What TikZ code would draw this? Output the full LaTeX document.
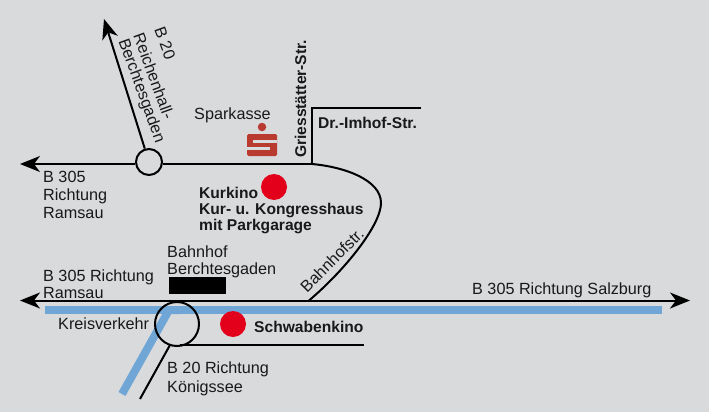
\documentclass[tikz,border=0pt]{standalone}
\usepackage{fontspec}
\setmainfont{Liberation Sans}
\usetikzlibrary{arrows.meta}
\definecolor{bgc}{HTML}{D9DADC}
\definecolor{bluer}{HTML}{6FA6D6}
\definecolor{redk}{HTML}{E2001A}
\definecolor{sred}{HTML}{B93A2E}
\tikzset{
  x=1pt,y=-1pt,
  road/.style={line width=2pt,draw=black},
  wide/.style={line width=8pt,draw=bluer},
  ring/.style={circle,draw=black,line width=2pt,inner sep=0pt},
  kino/.style={circle,fill=redk,inner sep=0pt,minimum size=26pt},
  lab/.style={font=\fontsize{16.2}{19}\selectfont,inner sep=0pt,text=black!90,anchor=base west},
  blab/.style={font=\fontsize{15.6}{18}\selectfont\bfseries,inner sep=0pt,text=black!90,anchor=base west},
  tip/.style={-{Stealth[length=20pt,width=16pt,inset=6pt]}},
}
\begin{document}
\begin{tikzpicture}
\fill[bgc] (0,0) rectangle (709,412);
\useasboundingbox (0,0) rectangle (709,412);
% coordinates
\coordinate (mainw) at (20,300.5);
\coordinate (maine) at (690,300.5);
\coordinate (blw) at (45,310);
\coordinate (blc) at (169,310);
\coordinate (ble) at (662,310);
\coordinate (bls) at (122,394);
\coordinate (topw) at (20,164);
\coordinate (topj) at (312,164);
\coordinate (north) at (104,19);
\coordinate (imhofc) at (312,108);
\coordinate (imhofe) at (421,108);
\coordinate (bahn) at (309,300.5);
\coordinate (south) at (140,399);
\coordinate (kreiss) at (170,345);
\coordinate (schws) at (180,345);
\coordinate (schwe) at (364,345);
% blue road
\draw[wide] (blw) -- (ble);
\draw[wide] (bls) -- (blc) -- ++(12,0);
% roads
\draw[road,tip] (bahn) -- (mainw);
\draw[road,tip] (bahn) -- (maine);
\node[ring,minimum size=44pt] (kreis) at (177,324) {};
\node[ring,minimum size=26pt,fill=bgc] (rb) at (149,162) {};
\draw[road,tip] (rb.west |- topw) -- (topw);
\draw[road,tip] (rb) -- (north);
\draw[road] (rb.east |- topj) -- (topj);
\draw[road] (topj) .. controls (345,167) and (381,180) .. (381,203) .. controls (381,225) and (345,270) .. (bahn);
\draw[road,line join=miter] (topj) -- (imhofc) -- (imhofe);
\draw[road] (kreiss) -- (south);
\draw[road] (schws) -- (schwe);
% black rect
\node[fill=black,minimum width=57pt,minimum height=17pt,inner sep=0pt] (bhf) at (197.5,285.5) {};
% kinos
\node[kino] (kur) at (274,187) {};
\node[kino] (sch) at (233,324) {};
% Sparkasse logo
\node[circle,fill=sred,inner sep=0pt,minimum size=8.5pt] (sdot) at (262,127) {};
\fill[sred,rounded corners=1.5pt] (247,134) rectangle (277,156);
\fill[bgc] (253,140) rectangle (277,143);
\fill[bgc] (247,147) rectangle (270,150);
% labels
\node[lab] at (43,182.5) {B 305};
\node[lab] at (43,200) {Richtung};
\node[lab] at (43,218) {Ramsau};
\node[lab] at (194,119) {Sparkasse};
\node[lab] at (167,257) {Bahnhof};
\node[lab] at (167,274) {Berchtesgaden};
\node[lab] at (43,281) {B 305 Richtung};
\node[lab] at (43,298) {Ramsau};
\node[lab] at (472,294) {B 305 Richtung Salzburg};
\node[lab] at (58,329) {Kreisverkehr};
\node[lab] at (167,373) {B 20 Richtung};
\node[lab] at (167,392) {Königssee};
\node[blab] at (254,332) {Schwabenkino};
\node[blab] at (199,198) {Kurkino};
\node[blab] at (199,214) {Kur- u. Kongresshaus};
\node[blab] at (199,230) {mit Parkgarage};
\node[blab] at (318,128) {Dr.-Imhof-Str.};
\node[blab,rotate=90] at (306,158) {Griesstätter-Str.};
\node[lab,rotate=45,anchor=center] at (332,260) {Bahnhofstr.};
\node[lab,rotate=-70,anchor=center] at (165,43) {B 20};
\node[lab,rotate=-70,anchor=center] at (154,76) {Reichenhall-};
\node[lab,rotate=-70,anchor=center] at (141,91) {Berchtesgaden};
\end{tikzpicture}
\end{document}
